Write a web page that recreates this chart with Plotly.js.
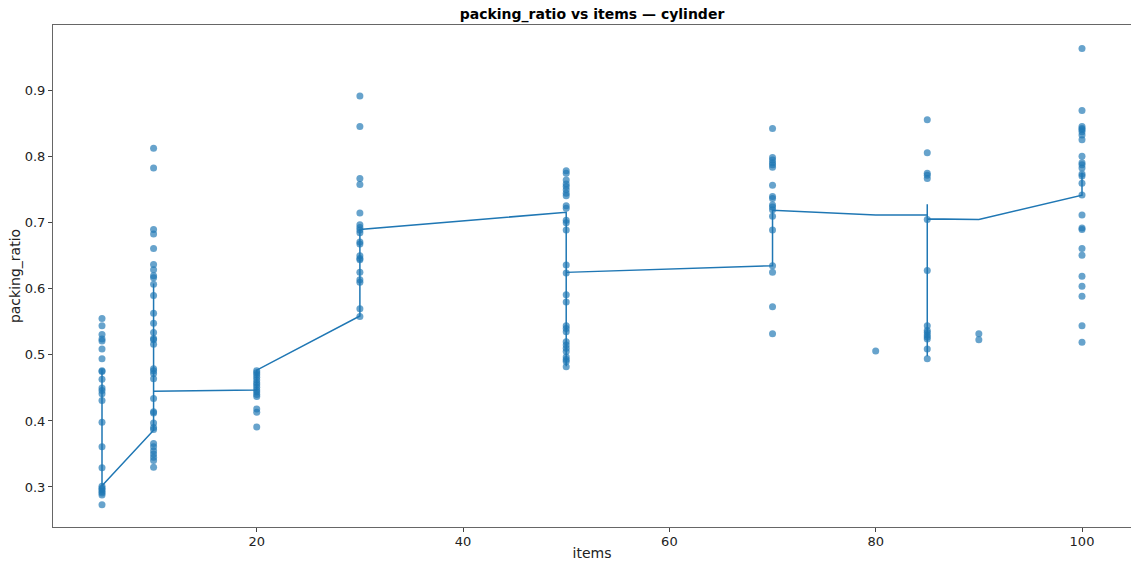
<!DOCTYPE html>
<html>
<head>
<meta charset="utf-8">
<script src="https://cdn.plot.ly/plotly-3.0.1.min.js"></script>
<style>
  html, body { margin: 0; padding: 0; background: #fff; }
  #chart { width: 1131px; height: 567px; }
</style>
</head>
<body>
<div id="chart"></div>
<script>
// packing_ratio observed for each item count (cylinder runs)
const ratio5 = [0.555, 0.544, 0.531, 0.524, 0.521, 0.509, 0.494, 0.476, 0.475, 0.463, 0.450, 0.446,
  0.441, 0.431, 0.398, 0.361, 0.329, 0.301, 0.298, 0.296, 0.293, 0.291, 0.288, 0.273];
const ratio10 = [0.813, 0.783, 0.690, 0.683, 0.661, 0.637, 0.629, 0.620, 0.617, 0.607, 0.590, 0.563,
  0.548, 0.534, 0.525, 0.523, 0.516, 0.479, 0.476, 0.472, 0.464, 0.434, 0.414, 0.412, 0.397, 0.390,
  0.387, 0.366, 0.361, 0.355, 0.350, 0.345, 0.340, 0.330];
const ratio20 = [0.476, 0.473, 0.470, 0.466, 0.462, 0.458, 0.455, 0.451, 0.447, 0.444, 0.440, 0.437,
  0.418, 0.413, 0.391];
const ratio30 = [0.892, 0.846, 0.767, 0.758, 0.715, 0.697, 0.693, 0.689, 0.685, 0.671, 0.668, 0.650,
  0.646, 0.644, 0.625, 0.614, 0.610, 0.570, 0.558];
const ratio50 = [0.779, 0.775, 0.765, 0.759, 0.755, 0.750, 0.745, 0.741, 0.726, 0.722, 0.704, 0.700,
  0.689, 0.636, 0.624, 0.591, 0.580, 0.544, 0.540, 0.535, 0.520, 0.515, 0.510, 0.505, 0.497, 0.493,
  0.490, 0.482];
const ratio70 = [0.843, 0.799, 0.795, 0.791, 0.788, 0.784, 0.757, 0.740, 0.737, 0.727, 0.724, 0.720,
  0.710, 0.689, 0.635, 0.625, 0.573, 0.532];
const ratio80 = [0.506];
const ratio85 = [0.856, 0.806, 0.775, 0.772, 0.767, 0.705, 0.628, 0.544, 0.537, 0.534, 0.530, 0.527,
  0.524, 0.509, 0.494];
const ratio90 = [0.532, 0.523];
const ratio100 = [0.964, 0.870, 0.846, 0.843, 0.841, 0.838, 0.833, 0.826, 0.801, 0.791, 0.788, 0.783,
  0.774, 0.771, 0.760, 0.742, 0.712, 0.692, 0.690, 0.661, 0.651, 0.619, 0.604, 0.589, 0.544, 0.519];

const itemCounts = [5, 10, 20, 30, 50, 70, 80, 85, 90, 100];
const ratioGroups = [ratio5, ratio10, ratio20, ratio30, ratio50, ratio70, ratio80, ratio85, ratio90, ratio100];

// connected trend path through the runs, in run order
const trendItems = [5, 5, 10, 10, 10, 20, 20, 30, 30, 50, 50, 50, 70, 70, 80, 85, 85, 85, 85, 90, 100, 100];
const trendRatio = [0.478, 0.302, 0.386, 0.608, 0.445, 0.447, 0.477, 0.559, 0.690, 0.716, 0.483, 0.625,
  0.635, 0.719, 0.712, 0.712, 0.728, 0.498, 0.706, 0.705, 0.742, 0.776];

const scatterX = [];
const scatterY = [];
itemCounts.forEach((n, i) => {
  ratioGroups[i].forEach(v => { scatterX.push(n); scatterY.push(v); });
});

const blue = '#1f77b4';

const traces = [
  {
    type: 'scatter', mode: 'markers',
    x: scatterX, y: scatterY,
    marker: { color: blue, size: 7, opacity: 0.68, line: { width: 0 } },
    hoverinfo: 'x+y', showlegend: false
  },
  {
    type: 'scatter', mode: 'lines',
    x: trendItems, y: trendRatio,
    line: { color: blue, width: 1.5 },
    hoverinfo: 'skip', showlegend: false
  }
];

const axisCommon = {
  showline: true, linecolor: '#666', linewidth: 1, mirror: true,
  ticks: 'outside', ticklen: 4, tickcolor: '#444', tickwidth: 1,
  showgrid: false, zeroline: false,
  tickfont: { family: 'DejaVu Sans', size: 13, color: '#222' }
};

const layout = {
  width: 1131, height: 567,
  margin: { l: 53, r: 0, t: 25, b: 40 },
  paper_bgcolor: '#fff', plot_bgcolor: '#fff',
  title: {
    text: '<b>packing_ratio vs items — cylinder</b>',
    font: { family: 'DejaVu Sans', size: 14, color: '#000' },
    x: 0.5, xref: 'paper', y: 0.976, yref: 'container', yanchor: 'middle'
  },
  xaxis: Object.assign({}, axisCommon, {
    range: [0.25, 104.75], tickmode: 'array', tickvals: [20, 40, 60, 80, 100],
    ticklabelstandoff: -2,
    title: { text: 'items', font: { family: 'DejaVu Sans', size: 14, color: '#222' }, standoff: 0 }
  }),
  yaxis: Object.assign({}, axisCommon, {
    range: [0.2394, 0.9996], tickmode: 'array', tickvals: [0.3, 0.4, 0.5, 0.6, 0.7, 0.8, 0.9],
    ticktext: ['0.3', '0.4', '0.5', '0.6', '0.7', '0.8', '0.9'],
    title: { text: 'packing_ratio', font: { family: 'DejaVu Sans', size: 14, color: '#222' }, standoff: 0 }
  })
};

Plotly.newPlot('chart', traces, layout, { displayModeBar: false, staticPlot: true });
</script>
</body>
</html>
